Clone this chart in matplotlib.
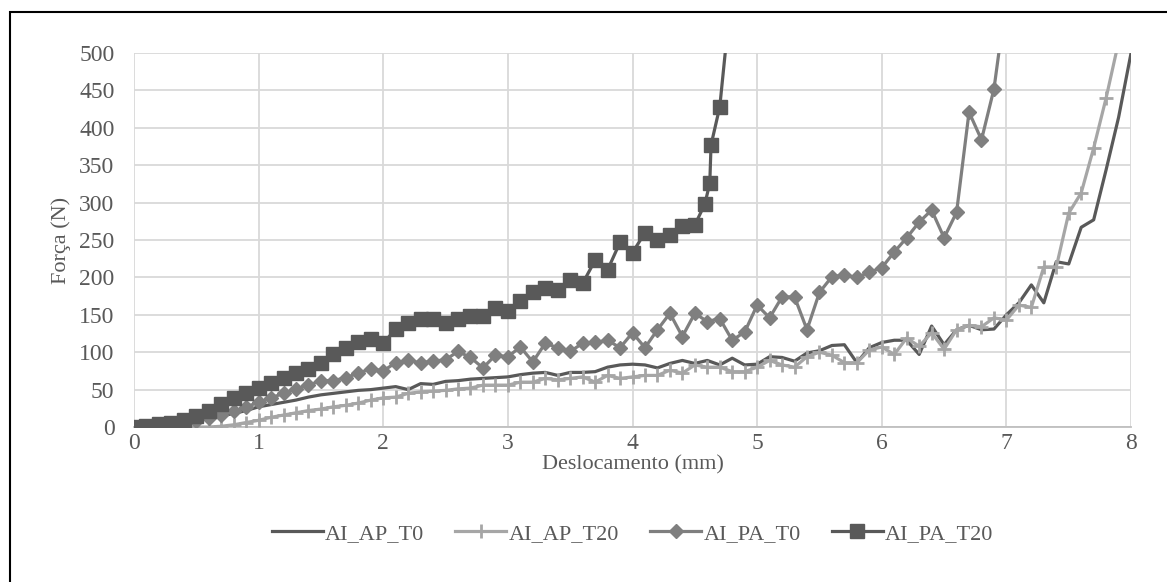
import numpy as np
import matplotlib
matplotlib.use("Agg")
import matplotlib.pyplot as plt
from matplotlib.patches import Rectangle

plt.rcParams['font.family'] = ['Liberation Serif', 'DejaVu Serif']

# Displacement grid (mm) shared by the AP series
x_ap = [round(0.1 * i, 1) for i in range(81)]

ai_ap_t0 = [0, 1, 2, 4, 6, 9, 12, 15, 18, 22,
            27, 30, 33, 36, 40, 43, 45, 47, 49, 50,
            52, 54, 50, 58, 57, 61, 62, 64, 65, 66,
            67, 70, 72, 73, 69, 73, 73, 74, 80, 83,
            84, 83, 79, 85, 89, 85, 89, 83, 92, 83,
            84, 94, 93, 88, 99, 102, 109, 110, 86, 106,
            113, 116, 116, 97, 135, 110, 130, 136, 130, 131,
            150, 166, 190, 166, 221, 218, 267, 277, 344, 414,
            500]

x_ap20 = x_ap[:80]
ai_ap_t20 = [0, 0, 0, 0, 0, 0, 0, 1, 3, 6,
             9, 13, 16, 19, 22, 24, 27, 29, 32, 36,
             39, 40, 45, 47, 48, 49, 51, 52, 56, 56,
             56, 60, 60, 65, 63, 65, 67, 60, 69, 65,
             67, 69, 69, 76, 72, 83, 80, 80, 74, 74,
             80, 89, 83, 80, 94, 100, 96, 86, 86, 103,
             107, 97, 119, 108, 126, 104, 130, 136, 134, 146,
             143, 163, 160, 214, 214, 286, 313, 373, 440, 515]

x_pa0 = [round(0.1 * i, 1) for i in range(71)]
ai_pa_t0 = [0, 1, 2, 3, 5, 8, 12, 16, 21, 27,
            33, 39, 45, 51, 56, 62, 62, 66, 72, 78,
            75, 86, 89, 86, 88, 90, 101, 93, 79, 96,
            94, 107, 87, 112, 106, 101, 112, 113, 116, 106,
            126, 106, 130, 152, 121, 152, 141, 145, 116, 127,
            163, 146, 174, 174, 130, 180, 201, 203, 200, 207,
            213, 234, 253, 274, 290, 253, 287, 421, 384, 452,
            575]

x_pa20 = [round(0.1 * i, 1) for i in range(46)] + [4.58, 4.62, 4.63, 4.70, 4.78]
ai_pa_t20 = [0, 2, 4, 6, 10, 15, 22, 31, 39, 46,
             52, 59, 65, 72, 78, 85, 98, 106, 113, 117,
             112, 131, 139, 145, 144, 139, 145, 149, 148, 159,
             155, 169, 180, 186, 183, 196, 192, 223, 210, 247,
             233, 260, 250, 257, 269, 270,
             298, 326, 377, 428, 560]

x_ticks = list(range(0, 9))
y_ticks = list(range(0, 501, 50))

FS_TICK = 17
FS_TEXT = 16
TXT = '#595959'

fig = plt.figure(figsize=(11.67, 5.82), dpi=100)
ax = fig.add_axes([0.1148, 0.2663, 0.8544, 0.6426])

ax.plot(x_ap, ai_ap_t0, color='#595959', lw=2.3, label='AI_AP_T0', zorder=3)
ax.plot(x_ap20, ai_ap_t20, color='#a6a6a6', lw=2.3, marker='+', ms=10, mew=2,
        label='AI_AP_T20', zorder=4)
ax.plot(x_pa0, ai_pa_t0, color='#7f7f7f', lw=2.3, marker='D', ms=7,
        label='AI_PA_T0', zorder=5)
ax.plot(x_pa20, ai_pa_t20, color='#595959', lw=2.3, marker='s', ms=10,
        label='AI_PA_T20', zorder=6)

ax.set_xlim(0, 8)
ax.set_ylim(0, 500)
ax.set_xticks(x_ticks)
ax.set_yticks(y_ticks)
ax.grid(True, color='#d9d9d9', lw=1.3)
ax.set_axisbelow(True)
for side in ['top', 'right', 'left']:
    ax.spines[side].set_visible(False)
ax.spines['bottom'].set_color('#bfbfbf')
ax.spines['bottom'].set_linewidth(1.3)
ax.tick_params(length=0, labelsize=FS_TICK, colors=TXT)
ax.tick_params(axis='y', pad=14)
ax.tick_params(axis='x', pad=4)

ax.set_xlabel('Deslocamento (mm)', fontsize=FS_TEXT, color=TXT, labelpad=1)
ax.set_ylabel('Força (N)', fontsize=FS_TEXT, color=TXT, labelpad=6)

leg = ax.legend(loc='center', bbox_to_anchor=(0.5, -0.285), ncol=4, frameon=False,
                fontsize=FS_TEXT, handlelength=2.3, handletextpad=0.1, columnspacing=1.4)
for t in leg.get_texts():
    t.set_color(TXT)

fig.patches.append(Rectangle((10 / 1167, -0.02), 1.1, 1 - 12 / 582 + 0.02,
                             transform=fig.transFigure, fill=False,
                             edgecolor='black', lw=1.5))

fig.savefig('out.png', dpi=100)
